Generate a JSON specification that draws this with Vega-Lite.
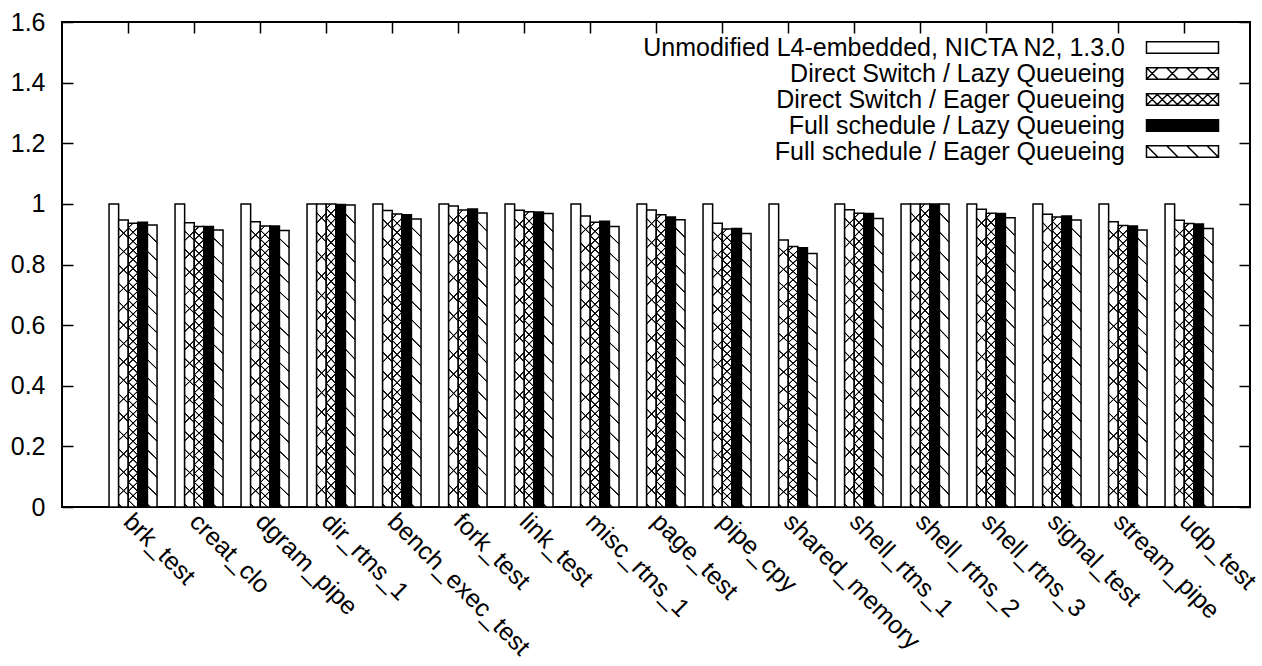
{
 "$schema": "https://vega.github.io/schema/vega-lite/v6.json",
 "width": 1188, "height": 485,
 "autosize": {"type": "none"},
 "padding": {"left": 62, "top": 22, "right": 12, "bottom": 159},
 "background": "white",
 "config": {
  "view": {"stroke": "black", "strokeWidth": 2},
  "font": "Liberation Sans",
  "axis": {"labelFont": "Liberation Sans", "labelFontSize": 25, "labelColor": "black", "labelLimit": 1000, "tickColor": "black", "tickWidth": 1.5, "domain": false, "grid": false},
  "legend": {"orient": "none", "legendX": 1078, "legendY": 13, "direction": "vertical", "labelFont": "Liberation Sans", "labelFontSize": 25, "labelColor": "black", "labelAlign": "right", "labelOffset": -40, "labelLimit": 1000, "symbolSize": 144, "rowPadding": -0.5, "padding": 0, "symbolStrokeColor": "black", "symbolStrokeWidth": 1.5}
 },
 "data": {"values": [
  {"test":"brk_test","config":"Unmodified L4-embedded, NICTA N2, 1.3.0","value":1},
  {"test":"brk_test","config":"Direct Switch / Lazy Queueing","value":0.947},
  {"test":"brk_test","config":"Direct Switch / Eager Queueing","value":0.936},
  {"test":"brk_test","config":"Full schedule / Lazy Queueing","value":0.939},
  {"test":"brk_test","config":"Full schedule / Eager Queueing","value":0.930},
  {"test":"creat_clo","config":"Unmodified L4-embedded, NICTA N2, 1.3.0","value":1},
  {"test":"creat_clo","config":"Direct Switch / Lazy Queueing","value":0.938},
  {"test":"creat_clo","config":"Direct Switch / Eager Queueing","value":0.925},
  {"test":"creat_clo","config":"Full schedule / Lazy Queueing","value":0.925},
  {"test":"creat_clo","config":"Full schedule / Eager Queueing","value":0.914},
  {"test":"dgram_pipe","config":"Unmodified L4-embedded, NICTA N2, 1.3.0","value":1},
  {"test":"dgram_pipe","config":"Direct Switch / Lazy Queueing","value":0.941},
  {"test":"dgram_pipe","config":"Direct Switch / Eager Queueing","value":0.927},
  {"test":"dgram_pipe","config":"Full schedule / Lazy Queueing","value":0.927},
  {"test":"dgram_pipe","config":"Full schedule / Eager Queueing","value":0.912},
  {"test":"dir_rtns_1","config":"Unmodified L4-embedded, NICTA N2, 1.3.0","value":1},
  {"test":"dir_rtns_1","config":"Direct Switch / Lazy Queueing","value":1.0},
  {"test":"dir_rtns_1","config":"Direct Switch / Eager Queueing","value":1.0},
  {"test":"dir_rtns_1","config":"Full schedule / Lazy Queueing","value":0.998},
  {"test":"dir_rtns_1","config":"Full schedule / Eager Queueing","value":0.996},
  {"test":"bench_exec_test","config":"Unmodified L4-embedded, NICTA N2, 1.3.0","value":1},
  {"test":"bench_exec_test","config":"Direct Switch / Lazy Queueing","value":0.978},
  {"test":"bench_exec_test","config":"Direct Switch / Eager Queueing","value":0.967},
  {"test":"bench_exec_test","config":"Full schedule / Lazy Queueing","value":0.964},
  {"test":"bench_exec_test","config":"Full schedule / Eager Queueing","value":0.950},
  {"test":"fork_test","config":"Unmodified L4-embedded, NICTA N2, 1.3.0","value":1},
  {"test":"fork_test","config":"Direct Switch / Lazy Queueing","value":0.993},
  {"test":"fork_test","config":"Direct Switch / Eager Queueing","value":0.980},
  {"test":"fork_test","config":"Full schedule / Lazy Queueing","value":0.983},
  {"test":"fork_test","config":"Full schedule / Eager Queueing","value":0.970},
  {"test":"link_test","config":"Unmodified L4-embedded, NICTA N2, 1.3.0","value":1},
  {"test":"link_test","config":"Direct Switch / Lazy Queueing","value":0.979},
  {"test":"link_test","config":"Direct Switch / Eager Queueing","value":0.974},
  {"test":"link_test","config":"Full schedule / Lazy Queueing","value":0.973},
  {"test":"link_test","config":"Full schedule / Eager Queueing","value":0.968},
  {"test":"misc_rtns_1","config":"Unmodified L4-embedded, NICTA N2, 1.3.0","value":1},
  {"test":"misc_rtns_1","config":"Direct Switch / Lazy Queueing","value":0.960},
  {"test":"misc_rtns_1","config":"Direct Switch / Eager Queueing","value":0.939},
  {"test":"misc_rtns_1","config":"Full schedule / Lazy Queueing","value":0.943},
  {"test":"misc_rtns_1","config":"Full schedule / Eager Queueing","value":0.925},
  {"test":"page_test","config":"Unmodified L4-embedded, NICTA N2, 1.3.0","value":1},
  {"test":"page_test","config":"Direct Switch / Lazy Queueing","value":0.980},
  {"test":"page_test","config":"Direct Switch / Eager Queueing","value":0.964},
  {"test":"page_test","config":"Full schedule / Lazy Queueing","value":0.957},
  {"test":"page_test","config":"Full schedule / Eager Queueing","value":0.948},
  {"test":"pipe_cpy","config":"Unmodified L4-embedded, NICTA N2, 1.3.0","value":1},
  {"test":"pipe_cpy","config":"Direct Switch / Lazy Queueing","value":0.936},
  {"test":"pipe_cpy","config":"Direct Switch / Eager Queueing","value":0.917},
  {"test":"pipe_cpy","config":"Full schedule / Lazy Queueing","value":0.919},
  {"test":"pipe_cpy","config":"Full schedule / Eager Queueing","value":0.902},
  {"test":"shared_memory","config":"Unmodified L4-embedded, NICTA N2, 1.3.0","value":1},
  {"test":"shared_memory","config":"Direct Switch / Lazy Queueing","value":0.881},
  {"test":"shared_memory","config":"Direct Switch / Eager Queueing","value":0.859},
  {"test":"shared_memory","config":"Full schedule / Lazy Queueing","value":0.855},
  {"test":"shared_memory","config":"Full schedule / Eager Queueing","value":0.836},
  {"test":"shell_rtns_1","config":"Unmodified L4-embedded, NICTA N2, 1.3.0","value":1},
  {"test":"shell_rtns_1","config":"Direct Switch / Lazy Queueing","value":0.981},
  {"test":"shell_rtns_1","config":"Direct Switch / Eager Queueing","value":0.969},
  {"test":"shell_rtns_1","config":"Full schedule / Lazy Queueing","value":0.968},
  {"test":"shell_rtns_1","config":"Full schedule / Eager Queueing","value":0.952},
  {"test":"shell_rtns_2","config":"Unmodified L4-embedded, NICTA N2, 1.3.0","value":1},
  {"test":"shell_rtns_2","config":"Direct Switch / Lazy Queueing","value":1},
  {"test":"shell_rtns_2","config":"Direct Switch / Eager Queueing","value":1},
  {"test":"shell_rtns_2","config":"Full schedule / Lazy Queueing","value":1},
  {"test":"shell_rtns_2","config":"Full schedule / Eager Queueing","value":1},
  {"test":"shell_rtns_3","config":"Unmodified L4-embedded, NICTA N2, 1.3.0","value":1},
  {"test":"shell_rtns_3","config":"Direct Switch / Lazy Queueing","value":0.982},
  {"test":"shell_rtns_3","config":"Direct Switch / Eager Queueing","value":0.969},
  {"test":"shell_rtns_3","config":"Full schedule / Lazy Queueing","value":0.968},
  {"test":"shell_rtns_3","config":"Full schedule / Eager Queueing","value":0.954},
  {"test":"signal_test","config":"Unmodified L4-embedded, NICTA N2, 1.3.0","value":1},
  {"test":"signal_test","config":"Direct Switch / Lazy Queueing","value":0.966},
  {"test":"signal_test","config":"Direct Switch / Eager Queueing","value":0.957},
  {"test":"signal_test","config":"Full schedule / Lazy Queueing","value":0.960},
  {"test":"signal_test","config":"Full schedule / Eager Queueing","value":0.947},
  {"test":"stream_pipe","config":"Unmodified L4-embedded, NICTA N2, 1.3.0","value":1},
  {"test":"stream_pipe","config":"Direct Switch / Lazy Queueing","value":0.941},
  {"test":"stream_pipe","config":"Direct Switch / Eager Queueing","value":0.929},
  {"test":"stream_pipe","config":"Full schedule / Lazy Queueing","value":0.927},
  {"test":"stream_pipe","config":"Full schedule / Eager Queueing","value":0.914},
  {"test":"udp_test","config":"Unmodified L4-embedded, NICTA N2, 1.3.0","value":1},
  {"test":"udp_test","config":"Direct Switch / Lazy Queueing","value":0.946},
  {"test":"udp_test","config":"Direct Switch / Eager Queueing","value":0.935},
  {"test":"udp_test","config":"Full schedule / Lazy Queueing","value":0.934},
  {"test":"udp_test","config":"Full schedule / Eager Queueing","value":0.919}
 ]},
 "layer": [
  {
   "mark": {"type": "bar", "stroke": "black", "strokeWidth": 1.5},
   "encoding": {
    "x": {"field": "test", "type": "nominal", "sort": null, "scale": {"paddingInner": 0, "paddingOuter": 0.5},
          "axis": {"orient": "bottom", "title": null, "labelAngle": 45, "labelAlign": "left", "labelBaseline": "middle", "tickSize": -11, "labelPadding": 21}},
    "xOffset": {"field": "config", "type": "nominal", "scale": {"domain": ["Unmodified L4-embedded, NICTA N2, 1.3.0", "Direct Switch / Lazy Queueing", "Direct Switch / Eager Queueing", "Full schedule / Lazy Queueing", "Full schedule / Eager Queueing"], "paddingInner": 0, "paddingOuter": 0.9375, "align": 0.78}},
    "y": {"field": "value", "type": "quantitative", "scale": {"domain": [0, 1.6], "nice": false},
          "axis": {"title": null, "values": [0, 0.2, 0.4, 0.6, 0.8, 1, 1.2, 1.4, 1.6], "format": "~g", "tickSize": -11, "labelPadding": 28}},
    "color": {"field": "config", "type": "nominal",
      "scale": {"domain": ["Unmodified L4-embedded, NICTA N2, 1.3.0", "Direct Switch / Lazy Queueing", "Direct Switch / Eager Queueing", "Full schedule / Lazy Queueing", "Full schedule / Eager Queueing"], "range": ["white", "white", "white", "black", "white"]},
      "legend": {"title": null,
        "symbolType": {"expr": "['M-1,-0.96H11V0.96H-1Z', 'M-1,-0.96H11V0.96H-1ZM-1,-0.96L0.92,0.96M-1,0.96L0.92,-0.96M2.36,-0.96L4.28,0.96M2.36,0.96L4.28,-0.96M5.72,-0.96L7.64,0.96M5.72,0.96L7.64,-0.96M9.08,-0.96L11,0.96M9.08,0.96L11,-0.96', 'M-1,-0.96H11V0.96H-1ZM-1,-0.96L0.92,0.96M-1,0.96L0.92,-0.96M0.68,-0.96L2.6,0.96M0.68,0.96L2.6,-0.96M2.36,-0.96L4.28,0.96M2.36,0.96L4.28,-0.96M4.04,-0.96L5.96,0.96M4.04,0.96L5.96,-0.96M5.72,-0.96L7.64,0.96M5.72,0.96L7.64,-0.96M7.4,-0.96L9.32,0.96M7.4,0.96L9.32,-0.96M9.08,-0.96L11,0.96M9.08,0.96L11,-0.96', 'M-1,-0.96H11V0.96H-1Z', 'M-1,-0.96H11V0.96H-1ZM-1,-0.96L0.92,0.96M2.36,-0.96L4.28,0.96M5.72,-0.96L7.64,0.96M9.08,-0.96L11,0.96'][indexof(['Unmodified L4-embedded, NICTA N2, 1.3.0', 'Direct Switch / Lazy Queueing', 'Direct Switch / Eager Queueing', 'Full schedule / Lazy Queueing', 'Full schedule / Eager Queueing'], datum.value)]"}
      }
    }
   }
  },
  {
   "transform": [{"filter": {"field": "config", "oneOf": ["Direct Switch / Lazy Queueing", "Full schedule / Eager Queueing"]}}],
   "mark": {"type": "bar", "strokeWidth": 0, "fill": {"gradient": "linear", "x1": 0.033, "y1": 0, "x2": 0, "y2": 1, "stops": [
    {"offset":0.026,"color":"transparent"},{"offset":0.0285,"color":"#000"},{"offset":0.0315,"color":"#000"},{"offset":0.034,"color":"transparent"},
    {"offset":0.090,"color":"transparent"},{"offset":0.0925,"color":"#000"},{"offset":0.0955,"color":"#000"},{"offset":0.098,"color":"transparent"},
    {"offset":0.154,"color":"transparent"},{"offset":0.1565,"color":"#000"},{"offset":0.1595,"color":"#000"},{"offset":0.162,"color":"transparent"},
    {"offset":0.218,"color":"transparent"},{"offset":0.2205,"color":"#000"},{"offset":0.2235,"color":"#000"},{"offset":0.226,"color":"transparent"},
    {"offset":0.282,"color":"transparent"},{"offset":0.2845,"color":"#000"},{"offset":0.2875,"color":"#000"},{"offset":0.290,"color":"transparent"},
    {"offset":0.346,"color":"transparent"},{"offset":0.3485,"color":"#000"},{"offset":0.3515,"color":"#000"},{"offset":0.354,"color":"transparent"},
    {"offset":0.410,"color":"transparent"},{"offset":0.4125,"color":"#000"},{"offset":0.4155,"color":"#000"},{"offset":0.418,"color":"transparent"},
    {"offset":0.474,"color":"transparent"},{"offset":0.4765,"color":"#000"},{"offset":0.4795,"color":"#000"},{"offset":0.482,"color":"transparent"},
    {"offset":0.538,"color":"transparent"},{"offset":0.5405,"color":"#000"},{"offset":0.5435,"color":"#000"},{"offset":0.546,"color":"transparent"},
    {"offset":0.602,"color":"transparent"},{"offset":0.6045,"color":"#000"},{"offset":0.6075,"color":"#000"},{"offset":0.610,"color":"transparent"},
    {"offset":0.666,"color":"transparent"},{"offset":0.6685,"color":"#000"},{"offset":0.6715,"color":"#000"},{"offset":0.674,"color":"transparent"},
    {"offset":0.730,"color":"transparent"},{"offset":0.7325,"color":"#000"},{"offset":0.7355,"color":"#000"},{"offset":0.738,"color":"transparent"},
    {"offset":0.794,"color":"transparent"},{"offset":0.7965,"color":"#000"},{"offset":0.7995,"color":"#000"},{"offset":0.802,"color":"transparent"},
    {"offset":0.858,"color":"transparent"},{"offset":0.8605,"color":"#000"},{"offset":0.8635,"color":"#000"},{"offset":0.866,"color":"transparent"},
    {"offset":0.922,"color":"transparent"},{"offset":0.9245,"color":"#000"},{"offset":0.9275,"color":"#000"},{"offset":0.930,"color":"transparent"},
    {"offset":0.986,"color":"transparent"},{"offset":0.9885,"color":"#000"},{"offset":0.9915,"color":"#000"},{"offset":0.994,"color":"transparent"}
   ]}},
   "encoding": {
    "x": {"field": "test", "type": "nominal", "sort": null, "axis": {"orient": "top", "title": null, "labels": false, "tickSize": -11}},
    "xOffset": {"field": "config", "type": "nominal"},
    "y": {"field": "value", "type": "quantitative", "axis": {"orient": "right", "title": null, "labels": false, "values": [0, 0.2, 0.4, 0.6, 0.8, 1, 1.2, 1.4, 1.6], "tickSize": -11}}
   }
  },
  {
   "transform": [{"filter": {"field": "config", "equal": "Direct Switch / Lazy Queueing"}}],
   "mark": {"type": "bar", "strokeWidth": 0, "fill": {"gradient": "linear", "x1": 0, "y1": 0, "x2": 0.033, "y2": 1, "stops": [
    {"offset":0.059,"color":"transparent"},{"offset":0.0615,"color":"#000"},{"offset":0.0645,"color":"#000"},{"offset":0.067,"color":"transparent"},
    {"offset":0.123,"color":"transparent"},{"offset":0.1255,"color":"#000"},{"offset":0.1285,"color":"#000"},{"offset":0.131,"color":"transparent"},
    {"offset":0.187,"color":"transparent"},{"offset":0.1895,"color":"#000"},{"offset":0.1925,"color":"#000"},{"offset":0.195,"color":"transparent"},
    {"offset":0.251,"color":"transparent"},{"offset":0.2535,"color":"#000"},{"offset":0.2565,"color":"#000"},{"offset":0.259,"color":"transparent"},
    {"offset":0.315,"color":"transparent"},{"offset":0.3175,"color":"#000"},{"offset":0.3205,"color":"#000"},{"offset":0.323,"color":"transparent"},
    {"offset":0.379,"color":"transparent"},{"offset":0.3815,"color":"#000"},{"offset":0.3845,"color":"#000"},{"offset":0.387,"color":"transparent"},
    {"offset":0.443,"color":"transparent"},{"offset":0.4455,"color":"#000"},{"offset":0.4485,"color":"#000"},{"offset":0.451,"color":"transparent"},
    {"offset":0.507,"color":"transparent"},{"offset":0.5095,"color":"#000"},{"offset":0.5125,"color":"#000"},{"offset":0.515,"color":"transparent"},
    {"offset":0.571,"color":"transparent"},{"offset":0.5735,"color":"#000"},{"offset":0.5765,"color":"#000"},{"offset":0.579,"color":"transparent"},
    {"offset":0.635,"color":"transparent"},{"offset":0.6375,"color":"#000"},{"offset":0.6405,"color":"#000"},{"offset":0.643,"color":"transparent"},
    {"offset":0.699,"color":"transparent"},{"offset":0.7015,"color":"#000"},{"offset":0.7045,"color":"#000"},{"offset":0.707,"color":"transparent"},
    {"offset":0.763,"color":"transparent"},{"offset":0.7655,"color":"#000"},{"offset":0.7685,"color":"#000"},{"offset":0.771,"color":"transparent"},
    {"offset":0.827,"color":"transparent"},{"offset":0.8295,"color":"#000"},{"offset":0.8325,"color":"#000"},{"offset":0.835,"color":"transparent"},
    {"offset":0.891,"color":"transparent"},{"offset":0.8935,"color":"#000"},{"offset":0.8965,"color":"#000"},{"offset":0.899,"color":"transparent"},
    {"offset":0.955,"color":"transparent"},{"offset":0.9575,"color":"#000"},{"offset":0.9605,"color":"#000"},{"offset":0.963,"color":"transparent"}
   ]}},
   "encoding": {
    "x": {"field": "test", "type": "nominal", "sort": null, "axis": null},
    "xOffset": {"field": "config", "type": "nominal"},
    "y": {"field": "value", "type": "quantitative", "axis": null}
   }
  },
  {
   "transform": [{"filter": {"field": "config", "equal": "Direct Switch / Eager Queueing"}}],
   "mark": {"type": "bar", "strokeWidth": 0, "fill": {"gradient": "linear", "x1": 0.033, "y1": 0, "x2": 0, "y2": 1, "stops": [
    {"offset":0.012,"color":"transparent"},{"offset":0.0145,"color":"#000"},{"offset":0.0175,"color":"#000"},{"offset":0.020,"color":"transparent"},
    {"offset":0.044,"color":"transparent"},{"offset":0.0465,"color":"#000"},{"offset":0.0495,"color":"#000"},{"offset":0.052,"color":"transparent"},
    {"offset":0.076,"color":"transparent"},{"offset":0.0785,"color":"#000"},{"offset":0.0815,"color":"#000"},{"offset":0.084,"color":"transparent"},
    {"offset":0.108,"color":"transparent"},{"offset":0.1105,"color":"#000"},{"offset":0.1135,"color":"#000"},{"offset":0.116,"color":"transparent"},
    {"offset":0.140,"color":"transparent"},{"offset":0.1425,"color":"#000"},{"offset":0.1455,"color":"#000"},{"offset":0.148,"color":"transparent"},
    {"offset":0.172,"color":"transparent"},{"offset":0.1745,"color":"#000"},{"offset":0.1775,"color":"#000"},{"offset":0.180,"color":"transparent"},
    {"offset":0.204,"color":"transparent"},{"offset":0.2065,"color":"#000"},{"offset":0.2095,"color":"#000"},{"offset":0.212,"color":"transparent"},
    {"offset":0.236,"color":"transparent"},{"offset":0.2385,"color":"#000"},{"offset":0.2415,"color":"#000"},{"offset":0.244,"color":"transparent"},
    {"offset":0.268,"color":"transparent"},{"offset":0.2705,"color":"#000"},{"offset":0.2735,"color":"#000"},{"offset":0.276,"color":"transparent"},
    {"offset":0.300,"color":"transparent"},{"offset":0.3025,"color":"#000"},{"offset":0.3055,"color":"#000"},{"offset":0.308,"color":"transparent"},
    {"offset":0.332,"color":"transparent"},{"offset":0.3345,"color":"#000"},{"offset":0.3375,"color":"#000"},{"offset":0.340,"color":"transparent"},
    {"offset":0.364,"color":"transparent"},{"offset":0.3665,"color":"#000"},{"offset":0.3695,"color":"#000"},{"offset":0.372,"color":"transparent"},
    {"offset":0.396,"color":"transparent"},{"offset":0.3985,"color":"#000"},{"offset":0.4015,"color":"#000"},{"offset":0.404,"color":"transparent"},
    {"offset":0.428,"color":"transparent"},{"offset":0.4305,"color":"#000"},{"offset":0.4335,"color":"#000"},{"offset":0.436,"color":"transparent"},
    {"offset":0.460,"color":"transparent"},{"offset":0.4625,"color":"#000"},{"offset":0.4655,"color":"#000"},{"offset":0.468,"color":"transparent"},
    {"offset":0.492,"color":"transparent"},{"offset":0.4945,"color":"#000"},{"offset":0.4975,"color":"#000"},{"offset":0.500,"color":"transparent"},
    {"offset":0.524,"color":"transparent"},{"offset":0.5265,"color":"#000"},{"offset":0.5295,"color":"#000"},{"offset":0.532,"color":"transparent"},
    {"offset":0.556,"color":"transparent"},{"offset":0.5585,"color":"#000"},{"offset":0.5615,"color":"#000"},{"offset":0.564,"color":"transparent"},
    {"offset":0.588,"color":"transparent"},{"offset":0.5905,"color":"#000"},{"offset":0.5935,"color":"#000"},{"offset":0.596,"color":"transparent"},
    {"offset":0.620,"color":"transparent"},{"offset":0.6225,"color":"#000"},{"offset":0.6255,"color":"#000"},{"offset":0.628,"color":"transparent"},
    {"offset":0.652,"color":"transparent"},{"offset":0.6545,"color":"#000"},{"offset":0.6575,"color":"#000"},{"offset":0.660,"color":"transparent"},
    {"offset":0.684,"color":"transparent"},{"offset":0.6865,"color":"#000"},{"offset":0.6895,"color":"#000"},{"offset":0.692,"color":"transparent"},
    {"offset":0.716,"color":"transparent"},{"offset":0.7185,"color":"#000"},{"offset":0.7215,"color":"#000"},{"offset":0.724,"color":"transparent"},
    {"offset":0.748,"color":"transparent"},{"offset":0.7505,"color":"#000"},{"offset":0.7535,"color":"#000"},{"offset":0.756,"color":"transparent"},
    {"offset":0.780,"color":"transparent"},{"offset":0.7825,"color":"#000"},{"offset":0.7855,"color":"#000"},{"offset":0.788,"color":"transparent"},
    {"offset":0.812,"color":"transparent"},{"offset":0.8145,"color":"#000"},{"offset":0.8175,"color":"#000"},{"offset":0.820,"color":"transparent"},
    {"offset":0.844,"color":"transparent"},{"offset":0.8465,"color":"#000"},{"offset":0.8495,"color":"#000"},{"offset":0.852,"color":"transparent"},
    {"offset":0.876,"color":"transparent"},{"offset":0.8785,"color":"#000"},{"offset":0.8815,"color":"#000"},{"offset":0.884,"color":"transparent"},
    {"offset":0.908,"color":"transparent"},{"offset":0.9105,"color":"#000"},{"offset":0.9135,"color":"#000"},{"offset":0.916,"color":"transparent"},
    {"offset":0.940,"color":"transparent"},{"offset":0.9425,"color":"#000"},{"offset":0.9455,"color":"#000"},{"offset":0.948,"color":"transparent"},
    {"offset":0.972,"color":"transparent"},{"offset":0.9745,"color":"#000"},{"offset":0.9775,"color":"#000"},{"offset":0.980,"color":"transparent"}
   ]}},
   "encoding": {
    "x": {"field": "test", "type": "nominal", "sort": null, "axis": null},
    "xOffset": {"field": "config", "type": "nominal"},
    "y": {"field": "value", "type": "quantitative", "axis": null}
   }
  },
  {
   "transform": [{"filter": {"field": "config", "equal": "Direct Switch / Eager Queueing"}}],
   "mark": {"type": "bar", "strokeWidth": 0, "fill": {"gradient": "linear", "x1": 0, "y1": 0, "x2": 0.033, "y2": 1, "stops": [
    {"offset":0.012,"color":"transparent"},{"offset":0.0145,"color":"#000"},{"offset":0.0175,"color":"#000"},{"offset":0.020,"color":"transparent"},
    {"offset":0.044,"color":"transparent"},{"offset":0.0465,"color":"#000"},{"offset":0.0495,"color":"#000"},{"offset":0.052,"color":"transparent"},
    {"offset":0.076,"color":"transparent"},{"offset":0.0785,"color":"#000"},{"offset":0.0815,"color":"#000"},{"offset":0.084,"color":"transparent"},
    {"offset":0.108,"color":"transparent"},{"offset":0.1105,"color":"#000"},{"offset":0.1135,"color":"#000"},{"offset":0.116,"color":"transparent"},
    {"offset":0.140,"color":"transparent"},{"offset":0.1425,"color":"#000"},{"offset":0.1455,"color":"#000"},{"offset":0.148,"color":"transparent"},
    {"offset":0.172,"color":"transparent"},{"offset":0.1745,"color":"#000"},{"offset":0.1775,"color":"#000"},{"offset":0.180,"color":"transparent"},
    {"offset":0.204,"color":"transparent"},{"offset":0.2065,"color":"#000"},{"offset":0.2095,"color":"#000"},{"offset":0.212,"color":"transparent"},
    {"offset":0.236,"color":"transparent"},{"offset":0.2385,"color":"#000"},{"offset":0.2415,"color":"#000"},{"offset":0.244,"color":"transparent"},
    {"offset":0.268,"color":"transparent"},{"offset":0.2705,"color":"#000"},{"offset":0.2735,"color":"#000"},{"offset":0.276,"color":"transparent"},
    {"offset":0.300,"color":"transparent"},{"offset":0.3025,"color":"#000"},{"offset":0.3055,"color":"#000"},{"offset":0.308,"color":"transparent"},
    {"offset":0.332,"color":"transparent"},{"offset":0.3345,"color":"#000"},{"offset":0.3375,"color":"#000"},{"offset":0.340,"color":"transparent"},
    {"offset":0.364,"color":"transparent"},{"offset":0.3665,"color":"#000"},{"offset":0.3695,"color":"#000"},{"offset":0.372,"color":"transparent"},
    {"offset":0.396,"color":"transparent"},{"offset":0.3985,"color":"#000"},{"offset":0.4015,"color":"#000"},{"offset":0.404,"color":"transparent"},
    {"offset":0.428,"color":"transparent"},{"offset":0.4305,"color":"#000"},{"offset":0.4335,"color":"#000"},{"offset":0.436,"color":"transparent"},
    {"offset":0.460,"color":"transparent"},{"offset":0.4625,"color":"#000"},{"offset":0.4655,"color":"#000"},{"offset":0.468,"color":"transparent"},
    {"offset":0.492,"color":"transparent"},{"offset":0.4945,"color":"#000"},{"offset":0.4975,"color":"#000"},{"offset":0.500,"color":"transparent"},
    {"offset":0.524,"color":"transparent"},{"offset":0.5265,"color":"#000"},{"offset":0.5295,"color":"#000"},{"offset":0.532,"color":"transparent"},
    {"offset":0.556,"color":"transparent"},{"offset":0.5585,"color":"#000"},{"offset":0.5615,"color":"#000"},{"offset":0.564,"color":"transparent"},
    {"offset":0.588,"color":"transparent"},{"offset":0.5905,"color":"#000"},{"offset":0.5935,"color":"#000"},{"offset":0.596,"color":"transparent"},
    {"offset":0.620,"color":"transparent"},{"offset":0.6225,"color":"#000"},{"offset":0.6255,"color":"#000"},{"offset":0.628,"color":"transparent"},
    {"offset":0.652,"color":"transparent"},{"offset":0.6545,"color":"#000"},{"offset":0.6575,"color":"#000"},{"offset":0.660,"color":"transparent"},
    {"offset":0.684,"color":"transparent"},{"offset":0.6865,"color":"#000"},{"offset":0.6895,"color":"#000"},{"offset":0.692,"color":"transparent"},
    {"offset":0.716,"color":"transparent"},{"offset":0.7185,"color":"#000"},{"offset":0.7215,"color":"#000"},{"offset":0.724,"color":"transparent"},
    {"offset":0.748,"color":"transparent"},{"offset":0.7505,"color":"#000"},{"offset":0.7535,"color":"#000"},{"offset":0.756,"color":"transparent"},
    {"offset":0.780,"color":"transparent"},{"offset":0.7825,"color":"#000"},{"offset":0.7855,"color":"#000"},{"offset":0.788,"color":"transparent"},
    {"offset":0.812,"color":"transparent"},{"offset":0.8145,"color":"#000"},{"offset":0.8175,"color":"#000"},{"offset":0.820,"color":"transparent"},
    {"offset":0.844,"color":"transparent"},{"offset":0.8465,"color":"#000"},{"offset":0.8495,"color":"#000"},{"offset":0.852,"color":"transparent"},
    {"offset":0.876,"color":"transparent"},{"offset":0.8785,"color":"#000"},{"offset":0.8815,"color":"#000"},{"offset":0.884,"color":"transparent"},
    {"offset":0.908,"color":"transparent"},{"offset":0.9105,"color":"#000"},{"offset":0.9135,"color":"#000"},{"offset":0.916,"color":"transparent"},
    {"offset":0.940,"color":"transparent"},{"offset":0.9425,"color":"#000"},{"offset":0.9455,"color":"#000"},{"offset":0.948,"color":"transparent"},
    {"offset":0.972,"color":"transparent"},{"offset":0.9745,"color":"#000"},{"offset":0.9775,"color":"#000"},{"offset":0.980,"color":"transparent"}
   ]}},
   "encoding": {
    "x": {"field": "test", "type": "nominal", "sort": null, "axis": null},
    "xOffset": {"field": "config", "type": "nominal"},
    "y": {"field": "value", "type": "quantitative", "axis": null}
   }
  }
 ],
 "resolve": {"axis": {"x": "independent", "y": "independent"}}
}
